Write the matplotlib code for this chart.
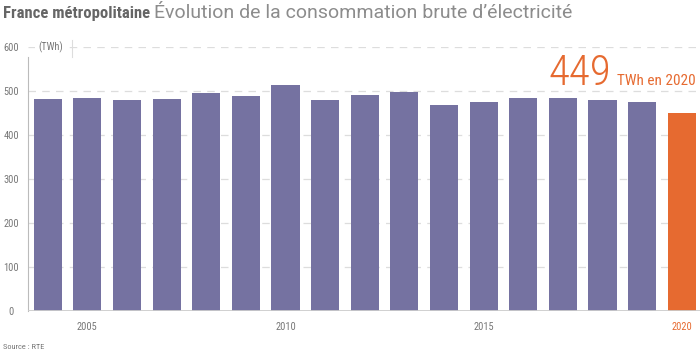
import matplotlib.pyplot as plt
import numpy as np

years = list(range(2004, 2021))
conso = [481, 485, 479, 481, 496, 488, 514, 479, 491, 497, 467, 476, 485, 483, 479, 476, 449]
xlabels = ['2005', '2010', '2015', '2020']

purple = '#7572a1'
orange = '#e66a30'
grey = '#777777'

plt.rcParams['font.family'] = ['Roboto Condensed', 'Roboto', 'DejaVu Sans']

fig = plt.figure(figsize=(7, 3.53), dpi=100)
ax = fig.add_axes([0.04, 0.119, 0.96, 0.748])

colors = [purple] * (len(years) - 1) + [orange]
ax.bar(years, conso, width=0.71, color=colors, zorder=3)

ax.set_xlim(2003.5, 2020.46)
ax.set_ylim(0, 600)

# grid
for v in range(100, 601, 100):
    ax.axhline(v, color='#dddddd', lw=0.9, ls=(0, (6, 5)), zorder=1)
ax.axhline(0, color='#cccccc', lw=2, zorder=4)

for s in ['top', 'right', 'bottom']:
    ax.spines[s].set_visible(False)
ax.spines['left'].set_color('#bbbbbb')
ax.spines['left'].set_linewidth(0.8)
ax.spines['left'].set_bounds(0, 577)

ax.set_yticks(range(0, 601, 100))
ax.tick_params(axis='y', length=0, pad=12, labelsize=7.5, labelcolor=grey)
for lab in ax.get_yticklabels():
    lab.set_horizontalalignment('center')

ax.set_xticks([int(t) for t in xlabels])
ax.set_xticklabels(xlabels)
ax.tick_params(axis='x', length=0, pad=8, labelsize=7.5, labelcolor=grey)
ax.get_xticklabels()[-1].set_color(orange)

ax.text(2003.75, 600, '(TWh)', fontsize=7.5, color=grey, va='center', ha='left',
        bbox=dict(facecolor='white', edgecolor='none', pad=2), zorder=5)
ax.plot([2004.6, 2004.6], [577, 616], color='#dddddd', lw=0.8, clip_on=False, zorder=5)

# big annotation
fig.text(0.873, 0.759, '449', fontsize=31, fontweight='light', color=orange,
         ha='right', va='baseline')
fig.text(0.881, 0.759, 'TWh en 2020', fontsize=11, color=orange, ha='left', va='baseline')

t1 = fig.text(0.004, 0.948, 'France métropolitaine', fontsize=12, fontweight='bold',
              color='#666666', va='baseline')
fig.canvas.draw()
bb = t1.get_window_extent()
x2 = (bb.x1 + 4) / fig.bbox.width
fig.text(x2, 0.948, 'Évolution de la consommation brute d\u2019électricité', fontsize=14,
         color='#8c8c8c', va='baseline', family=['Roboto', 'DejaVu Sans'])

fig.text(0.004, 0.012, 'Source : RTE', fontsize=6, color=grey, va='baseline')

fig.savefig('out.png', dpi=100)
